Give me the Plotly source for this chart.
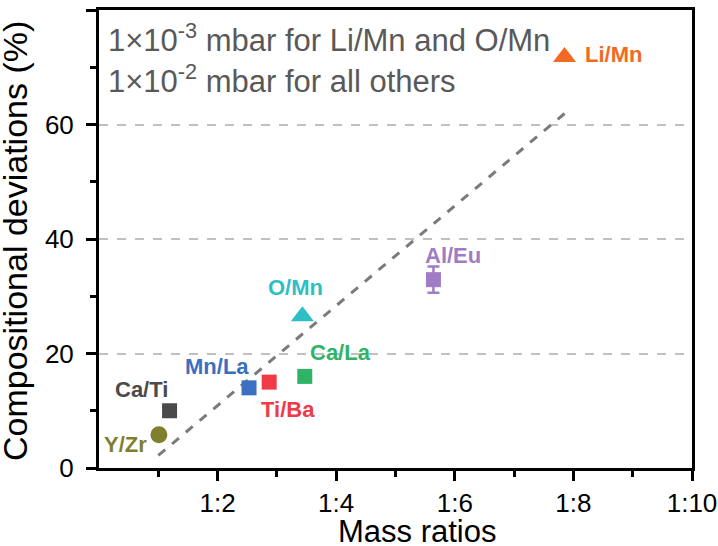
import plotly.graph_objects as go

# ---- data ----
pairs = ["Y/Zr", "Ca/Ti", "Mn/La", "Ti/Ba", "Ca/La", "O/Mn", "Al/Eu", "Li/Mn"]
mass_ratio = [1.01, 1.19, 2.53, 2.87, 3.47, 3.43, 5.64, 7.85]
deviation = [5.8, 10.0, 14.0, 15.0, 16.0, 26.5, 32.9, 71.8]
err_plus = [0, 0, 0, 0, 0, 0, 2.3, 0]
err_minus = [0, 0, 0, 0, 0, 0, 2.3, 0]
colors = ["#7f7f2e", "#4a4a4a", "#3a6fc1", "#ee3b45", "#2fb366", "#2ebfc4", "#a07cc5", "#f26922"]
symbols = ["circle", "square", "square", "square", "square", "triangle-up", "square", "triangle-up"]
sizes = [17, 15, 15, 15, 15, 20, 15, 20]
# label offsets in pixels (dx, dy up-positive)
label_dx = [-33, -28, -32, 19, 36, -7, 20, 49]
label_dy = [-10, 21, 21, -27, 24, 29, 24, 2]

trend_x = [1.0, 7.86]
trend_y = [2.2, 62.0]

xtick_vals = [2, 4, 6, 8, 10]
xtick_text = ["1:2", "1:4", "1:6", "1:8", "1:10"]

FONT = "Arial, Liberation Sans, sans-serif"

fig = go.Figure()

fig.add_trace(go.Scatter(
    x=trend_x, y=trend_y, mode="lines",
    line=dict(color="#7a7a7a", width=3, dash="dash"),
    showlegend=False, hoverinfo="skip"))

for i, name in enumerate(pairs):
    has_err = err_plus[i] > 0 or err_minus[i] > 0
    fig.add_trace(go.Scatter(
        x=[mass_ratio[i]], y=[deviation[i]], mode="markers", name=name,
        marker=dict(symbol=symbols[i], size=sizes[i], color=colors[i],
                    line=dict(width=0)),
        error_y=dict(type="data", symmetric=False, array=[err_plus[i]],
                     arrayminus=[err_minus[i]], visible=has_err,
                     color=colors[i], thickness=2.5, width=6),
        showlegend=False))
    fig.add_annotation(
        x=mass_ratio[i], y=deviation[i], text="<b>%s</b>" % name,
        showarrow=False, xshift=label_dx[i], yshift=label_dy[i],
        font=dict(family=FONT, size=22, color=colors[i]),
        xanchor="center", yanchor="middle")

fig.add_annotation(
    xref="paper", yref="paper", x=0.012, y=0.938,
    text="1×10<sup>-3</sup> mbar for Li/Mn and O/Mn", showarrow=False,
    xanchor="left", yanchor="middle",
    font=dict(family=FONT, size=31, color="#595959"))
fig.add_annotation(
    xref="paper", yref="paper", x=0.012, y=0.849,
    text="1×10<sup>-2</sup> mbar for all others", showarrow=False,
    xanchor="left", yanchor="middle",
    font=dict(family=FONT, size=31, color="#595959"))

# axis titles
fig.add_annotation(
    xref="paper", yref="paper", x=(417 - 99) / 593, y=(468 - 531) / 458,
    text="Mass ratios", showarrow=False, xanchor="center", yanchor="middle",
    font=dict(family=FONT, size=31, color="#000000"))
fig.add_annotation(
    xref="paper", yref="paper", x=(15 - 99) / 593, y=(468 - 241) / 458,
    text="Compositional deviations (%)", showarrow=False, textangle=-90,
    xanchor="center", yanchor="middle",
    font=dict(family=FONT, size=34, color="#000000"))

fig.update_layout(
    width=718, height=546,
    margin=dict(l=99, r=26, t=10, b=78, autoexpand=False),
    paper_bgcolor="white", plot_bgcolor="white",
    font=dict(family=FONT, size=26, color="#000000"),
    showlegend=False,
)
fig.update_xaxes(
    range=[0, 10], tickvals=xtick_vals, ticktext=xtick_text,
    showgrid=False, zeroline=False, automargin=False,
    showline=True, linecolor="black", linewidth=3, mirror=True,
    ticks="outside", ticklen=10, tickwidth=3, tickcolor="black",
    minor=dict(tickvals=[1, 3, 5, 7, 9], ticks="outside", ticklen=6,
               tickwidth=3, tickcolor="black", showgrid=False),
    tickfont=dict(family=FONT, size=26, color="#000000"))
fig.update_yaxes(
    range=[0, 80], tickvals=[0, 20, 40, 60, 80],
    showgrid=True, gridcolor="#c0c0c0", gridwidth=1.5, griddash="dash",
    zeroline=False, automargin=False, ticklabelstandoff=7,
    showline=True, linecolor="black", linewidth=3, mirror=True,
    ticks="outside", ticklen=10, tickwidth=3, tickcolor="black",
    minor=dict(tickvals=[10, 30, 50, 70], ticks="outside", ticklen=6,
               tickwidth=3, tickcolor="black", showgrid=False),
    tickfont=dict(family=FONT, size=26, color="#000000"))

fig.write_html(
    "out.html",
    config={"displayModeBar": False},
    post_script="document.body.style.margin='0';document.body.style.overflow='hidden';")
